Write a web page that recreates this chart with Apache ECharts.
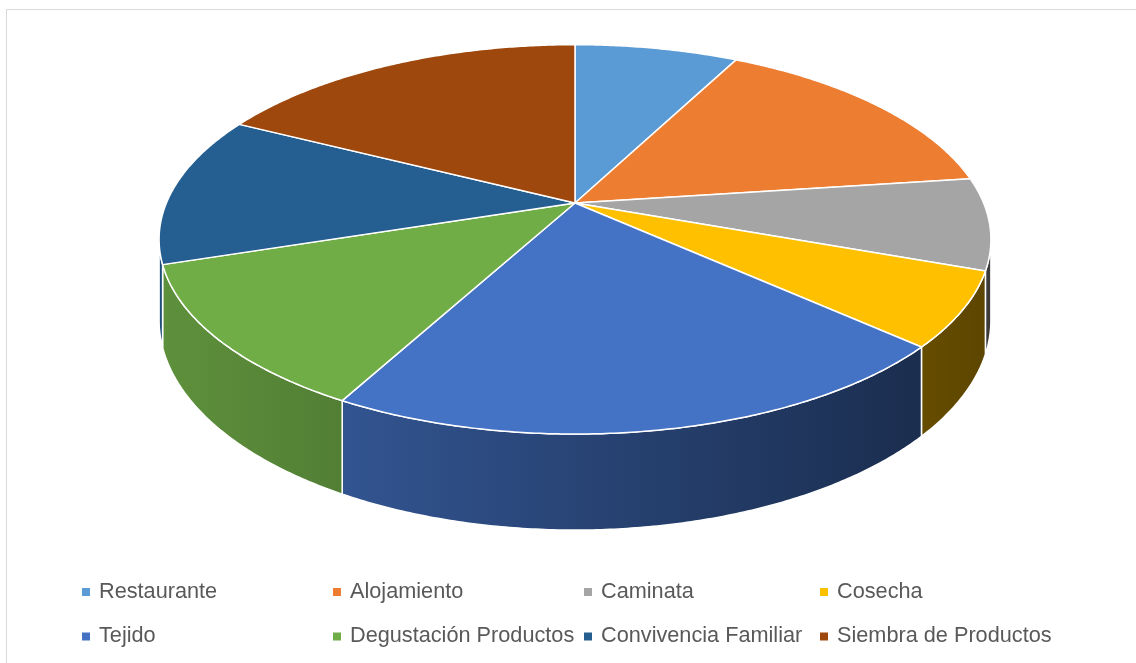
<!DOCTYPE html>
<html>
<head>
<meta charset="utf-8">
<script src="https://cdn.jsdelivr.net/npm/echarts@6/dist/echarts.min.js"></script>
<style>
  html, body { margin: 0; padding: 0; background: #ffffff; }
  #chart { width: 1136px; height: 663px; }
</style>
</head>
<body>
<div id="chart"></div>
<script>
// Activities and their share (%)
const categories = [
  'Restaurante', 'Alojamiento', 'Caminata', 'Cosecha',
  'Tejido', 'Degustación Productos', 'Convivencia Familiar', 'Siembra de Productos'
];
const values = [7.6, 15.3, 7.6, 6.2, 21.2, 12.1, 12.5, 17.5];
const palette = ['#5B9BD5', '#ED7D31', '#A5A5A5', '#FFC000', '#4472C4', '#70AD47', '#255E91', '#9E480E'];

// Tilted disc seen in perspective: centre, radii, perspective strength, wall depth
const CX = 575, CY = 203, RX = 408.6, RY = 187.9, PERSP = 0.1867, DEPTH = 78.1;
const TAU = Math.PI * 2;

// theta measured clockwise from the far side; h = 0 top face, 1 bottom face
function project(theta, r, h) {
  const w = 1 + PERSP * r * Math.cos(theta);
  return [
    CX + RX * r * Math.sin(theta) / w,
    CY - RY * r * Math.cos(theta) / w + DEPTH * h / w
  ];
}

function arc(a0, a1, h) {
  const pts = [];
  const n = Math.max(2, Math.ceil((a1 - a0) / (Math.PI / 360)));
  for (let k = 0; k <= n; k++) pts.push(project(a0 + (a1 - a0) * k / n, 1, h));
  return pts;
}

function shade(hex, f) {
  const n = parseInt(hex.slice(1), 16);
  const r = Math.round(((n >> 16) & 255) * f);
  const g = Math.round(((n >> 8) & 255) * f);
  const b = Math.round((n & 255) * f);
  return 'rgb(' + r + ',' + g + ',' + b + ')';
}

const total = values.reduce((s, v) => s + v, 0);

function sliceRenderer(idx) {
  return function (params, api) {
    let start = 0;
    for (let k = 0; k < idx; k++) start += values[k];
    const a0 = start / total * TAU;
    const a1 = (start + api.value(0)) / total * TAU;
    const children = [];

    // Outer wall: only the part that faces the viewer
    const s0 = Math.acos(-PERSP), s1 = TAU - s0;
    const w0 = Math.max(a0, s0), w1 = Math.min(a1, s1);
    if (w1 > w0) {
      const pts = arc(w0, w1, 0).concat(arc(w0, w1, 1).reverse());
      children.push({
        type: 'polygon',
        shape: { points: pts },
        style: {
          fill: new echarts.graphic.LinearGradient(158, 0, 990, 0, [
            { offset: 0, color: shade(palette[idx], 0.84) },
            { offset: 1, color: shade(palette[idx], 0.36) }
          ], true),
          stroke: '#ffffff',
          lineWidth: 1.5,
          lineJoin: 'round'
        }
      });
    }

    // Top face
    const top = [project(0, 0, 0)].concat(arc(a0, a1, 0));
    children.push({
      type: 'polygon',
      shape: { points: top },
      style: { fill: palette[idx], stroke: '#ffffff', lineWidth: 1.5, lineJoin: 'round' }
    });
    return { type: 'group', children: children };
  };
}

const chart = echarts.init(document.getElementById('chart'), null, { renderer: 'canvas' });

const legendLeft = [82, 333, 584, 820];

chart.setOption({
  animation: false,
  backgroundColor: '#ffffff',
  graphic: [{
    type: 'rect',
    shape: { x: 6.5, y: 9.5, width: 1300, height: 800 },
    style: { fill: 'none', stroke: '#d9d9d9', lineWidth: 1 },
    silent: true
  }],
  legend: legendLeft.map((x, c) => ({
    orient: 'vertical',
    left: x,
    top: 580,
    padding: 0,
    icon: 'rect',
    itemWidth: 8,
    itemHeight: 8,
    itemGap: 20.5,
    selectedMode: false,
    data: [categories[c], categories[c + 4]],
    textStyle: {
      fontFamily: 'Liberation Sans',
      fontSize: 21.7,
      lineHeight: 24,
      color: '#595959',
      padding: [0, 0, 0, 4]
    }
  })),
  series: categories.map((name, i) => ({
    type: 'custom',
    name: name,
    coordinateSystem: 'none',
    itemStyle: { color: palette[i] },
    renderItem: sliceRenderer(i),
    data: [[values[i]]]
  }))
});
</script>
</body>
</html>
